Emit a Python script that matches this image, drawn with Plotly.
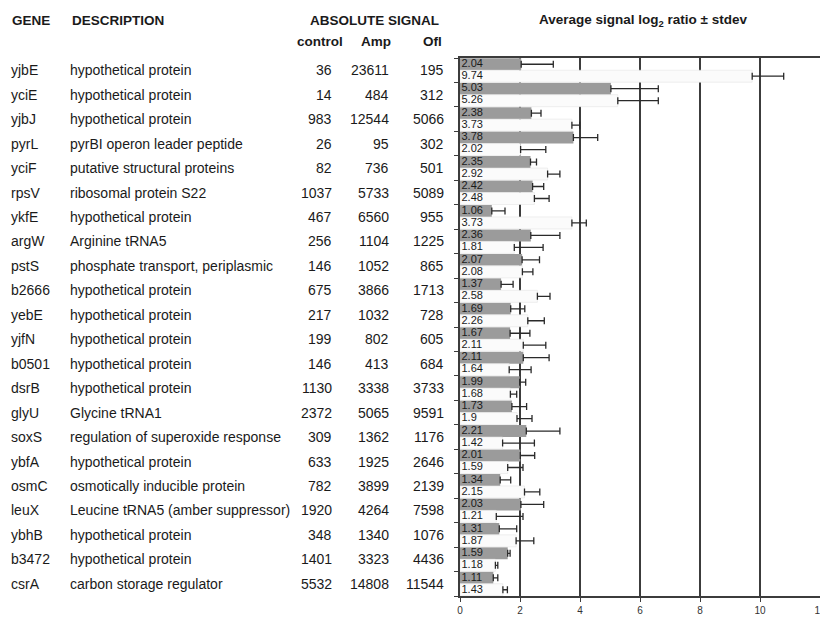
import plotly.graph_objects as go

genes = ["yjbE", "yciE", "yjbJ", "pyrL", "yciF", "rpsV", "ykfE", "argW", "pstS", "b2666", "yebE",
         "yjfN", "b0501", "dsrB", "glyU", "soxS", "ybfA", "osmC", "leuX", "ybhB", "b3472", "csrA"]
descriptions = ["hypothetical protein", "hypothetical protein", "hypothetical protein",
                "pyrBI operon leader peptide", "putative structural proteins", "ribosomal protein S22",
                "hypothetical protein", "Arginine tRNA5", "phosphate transport, periplasmic",
                "hypothetical protein", "hypothetical protein", "hypothetical protein",
                "hypothetical protein", "hypothetical protein", "Glycine tRNA1",
                "regulation of superoxide response", "hypothetical protein",
                "osmotically inducible protein", "Leucine tRNA5 (amber suppressor)",
                "hypothetical protein", "hypothetical protein", "carbon storage regulator"]
signal_control = [36, 14, 983, 26, 82, 1037, 467, 256, 146, 675, 217, 199, 146, 1130, 2372, 309,
                  633, 782, 1920, 348, 1401, 5532]
signal_amp = [23611, 484, 12544, 95, 736, 5733, 6560, 1104, 1052, 3866, 1032, 802, 413, 3338, 5065,
              1362, 1925, 3899, 4264, 1340, 3323, 14808]
signal_ofl = [195, 312, 5066, 302, 501, 5089, 955, 1225, 865, 1713, 728, 605, 684, 3733, 9591,
              1176, 2646, 2139, 7598, 1076, 4436, 11544]

ratio_amp = [2.04, 5.03, 2.38, 3.78, 2.35, 2.42, 1.06, 2.36, 2.07, 1.37, 1.69, 1.67, 2.11, 1.99,
             1.73, 2.21, 2.01, 1.34, 2.03, 1.31, 1.59, 1.11]
ratio_ofl = [9.74, 5.26, 3.73, 2.02, 2.92, 2.48, 3.73, 1.81, 2.08, 2.58, 2.26, 2.11, 1.64, 1.68,
             1.9, 1.42, 1.59, 2.15, 1.21, 1.87, 1.18, 1.43]
stdev_amp = [1.07, 1.58, 0.32, 0.81, 0.20, 0.37, 0.44, 0.97, 0.58, 0.40, 0.47, 0.66, 0.86, 0.20,
             0.49, 1.12, 0.48, 0.35, 0.76, 0.58, 0.08, 0.15]
stdev_ofl = [1.05, 1.35, 0.26, 0.84, 0.41, 0.49, 0.48, 0.96, 0.35, 0.42, 0.55, 0.75, 0.73, 0.21,
             0.50, 1.06, 0.51, 0.51, 0.89, 0.59, 0.08, 0.15]
x_ticks = [0, 2, 4, 6, 8, 10, 12]

FONT = "Liberation Sans, Arial, sans-serif"
TXT = "#1a1a1a"
n = len(genes)
idx = list(range(n))
y_amp = [i - 0.245 for i in idx]
y_ofl = [i + 0.245 for i in idx]

fig = go.Figure()
fig.add_trace(go.Bar(
    x=ratio_amp, y=y_amp, orientation="h", width=0.49,
    marker=dict(color="#9b9b9b", line=dict(width=0)),
    error_x=dict(type="data", symmetric=False, array=stdev_amp, arrayminus=[0] * n,
                 color="#2a2a2a", thickness=1.3, width=3.5),
    hoverinfo="skip", showlegend=False))
fig.add_trace(go.Bar(
    x=ratio_ofl, y=y_ofl, orientation="h", width=0.49,
    marker=dict(color="#fbfbfb", line=dict(width=0.6, color="#e4e4e4")),
    error_x=dict(type="data", symmetric=False, array=stdev_ofl, arrayminus=[0] * n,
                 color="#2a2a2a", thickness=1.3, width=3.5),
    hoverinfo="skip", showlegend=False))
# value labels at the start of each bar
fig.add_trace(go.Scatter(
    x=[0.05] * n, y=y_amp, mode="text", text=[f"{v:g}" for v in ratio_amp],
    textposition="middle right", textfont=dict(family=FONT, size=11, color=TXT),
    hoverinfo="skip", showlegend=False))
fig.add_trace(go.Scatter(
    x=[0.05] * n, y=y_ofl, mode="text", text=[f"{v:g}" for v in ratio_ofl],
    textposition="middle right", textfont=dict(family=FONT, size=11, color=TXT),
    hoverinfo="skip", showlegend=False))

# figure is placed at an ~8px offset by the page body margin
W, H = 820, 610
L, R, T, B = 452, 2, 50, 20
pw = W - L - R
ph = H - T - B


def px(xpix):
    return (xpix - L) / pw


def py(ypix):
    return 1 - (ypix - T) / ph


ann = []
for i in idx:
    common = dict(yref="y", y=i, yanchor="middle", xref="paper", showarrow=False,
                  font=dict(family=FONT, size=14, color=TXT))
    ann.append(dict(x=px(-7), xanchor="left", text=genes[i], **common))
    ann.append(dict(x=px(53), xanchor="left", text=descriptions[i], **common))
    ann.append(dict(x=px(324), xanchor="right", text=str(signal_control[i]), **common))
    ann.append(dict(x=px(382), xanchor="right", text=str(signal_amp[i]), **common))
    ann.append(dict(x=px(438), xanchor="right", text=str(signal_ofl[i]), **common))

hdr = dict(xref="paper", yref="paper", yanchor="middle", showarrow=False,
           font=dict(family=FONT, size=13.5, color=TXT))
ann.append(dict(x=px(-5), y=py(12), xanchor="left", text="<b>GENE</b>", **hdr))
ann.append(dict(x=px(56), y=py(12), xanchor="left", text="<b>DESCRIPTION</b>", **hdr))
ann.append(dict(x=px(365), y=py(12), xanchor="center", text="<b>ABSOLUTE SIGNAL</b>", **hdr))
ann.append(dict(x=px(310), y=py(33), xanchor="center", text="<b>control</b>", **hdr))
ann.append(dict(x=px(367), y=py(33), xanchor="center", text="<b>Amp</b>", **hdr))
ann.append(dict(x=px(424), y=py(33), xanchor="center", text="<b>Ofl</b>", **hdr))
ann.append(dict(x=px(638), y=py(12), xanchor="center",
                text="<b>Average signal log<sub>2</sub> ratio ± stdev</b>",
                xref="paper", yref="paper", yanchor="middle", showarrow=False,
                font=dict(family=FONT, size=13.5, color=TXT)))

fig.update_layout(
    width=W, height=H,
    margin=dict(l=L, r=R, t=T, b=B, pad=0),
    paper_bgcolor="white", plot_bgcolor="white",
    barmode="overlay",
    annotations=ann,
    xaxis=dict(range=[0, 12], tickvals=x_ticks, ticktext=[str(t) for t in x_ticks],
               ticklabeloverflow="allow",
               showgrid=True, gridcolor="#3c3c3c", gridwidth=1.5,
               showline=True, linecolor="#3c3c3c", linewidth=1.5, mirror=True,
               ticks="outside", ticklen=4, tickcolor="#3c3c3c", tickwidth=1.2,
               tickfont=dict(family=FONT, size=10, color="#333333"),
               zeroline=False, fixedrange=True),
    yaxis=dict(range=[n - 0.5, -0.5], tickvals=[i - 0.5 for i in range(n + 1)],
               showticklabels=False, showgrid=False, zeroline=False,
               showline=True, linecolor="#3c3c3c", linewidth=1.5, mirror=True,
               ticks="outside", ticklen=4, tickcolor="#3c3c3c", tickwidth=1.2,
               fixedrange=True),
)

fig.write_html("out.html")
